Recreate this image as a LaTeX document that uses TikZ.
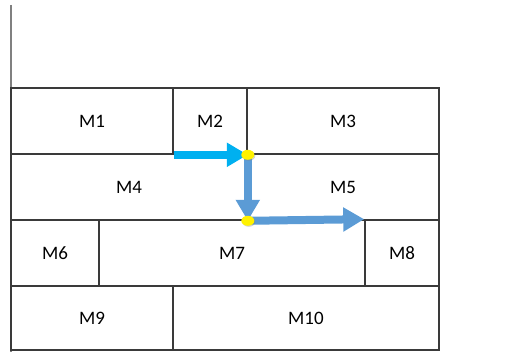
\documentclass[tikz,border=0pt]{standalone}
\usepackage{fontspec}
\setmainfont{Carlito}
\usetikzlibrary{arrows.meta,shapes.geometric,shadows,positioning}
\definecolor{gridline}{HTML}{3A3A3A}
\definecolor{flowcyan}{HTML}{00B0F0}
\definecolor{flowblue}{HTML}{5B9BD5}
\tikzset{
  cell/.style={rectangle,draw=gridline,line width=1.6pt,inner sep=0pt,
    font=\fontsize{19}{21}\selectfont},
  flow/.style={line width=8pt,-{Triangle[length=21pt,width=23pt]}},
  junction/.style={ellipse,fill=yellow,inner sep=0pt,minimum width=13pt,
    minimum height=10pt,drop shadow={shadow xshift=1pt,shadow yshift=-1pt,opacity=.35}}
}
\begin{document}
\begin{tikzpicture}[x=1pt,y=-1pt]
  \useasboundingbox (0,0) rectangle (515,352);
  \draw[gray,line width=1.5pt] (11,5) -- (11,352);

  % machine cells: number/centre x/centre y/width/height
  \foreach \i/\cx/\cy/\w/\h in {1/92/121/162/66, 2/210/121/74/66, 3/343/121/192/66,
      4/129/187/236/66, 5/343/187/192/66,
      6/55/253/88/66, 7/232/253/266/66, 8/402/253/74/66,
      9/92/318/162/64, 10/306/318/266/64}
    \node[cell,minimum width=\w pt,minimum height=\h pt] (m\i) at (\cx,\cy) {M\i};

  \coordinate (j1) at (m2.south east);
  \coordinate (j2) at (m4.south east);

  \draw[flow,flowcyan] (m1.south east) -- (j1);
  \draw[flow,flowblue] (j1) -- (j2);
  \draw[flow,flowblue] (j2) -- (m8.north west);

  \node[junction] at (j1) {};
  \node[junction] at (j2) {};
\end{tikzpicture}
\end{document}
